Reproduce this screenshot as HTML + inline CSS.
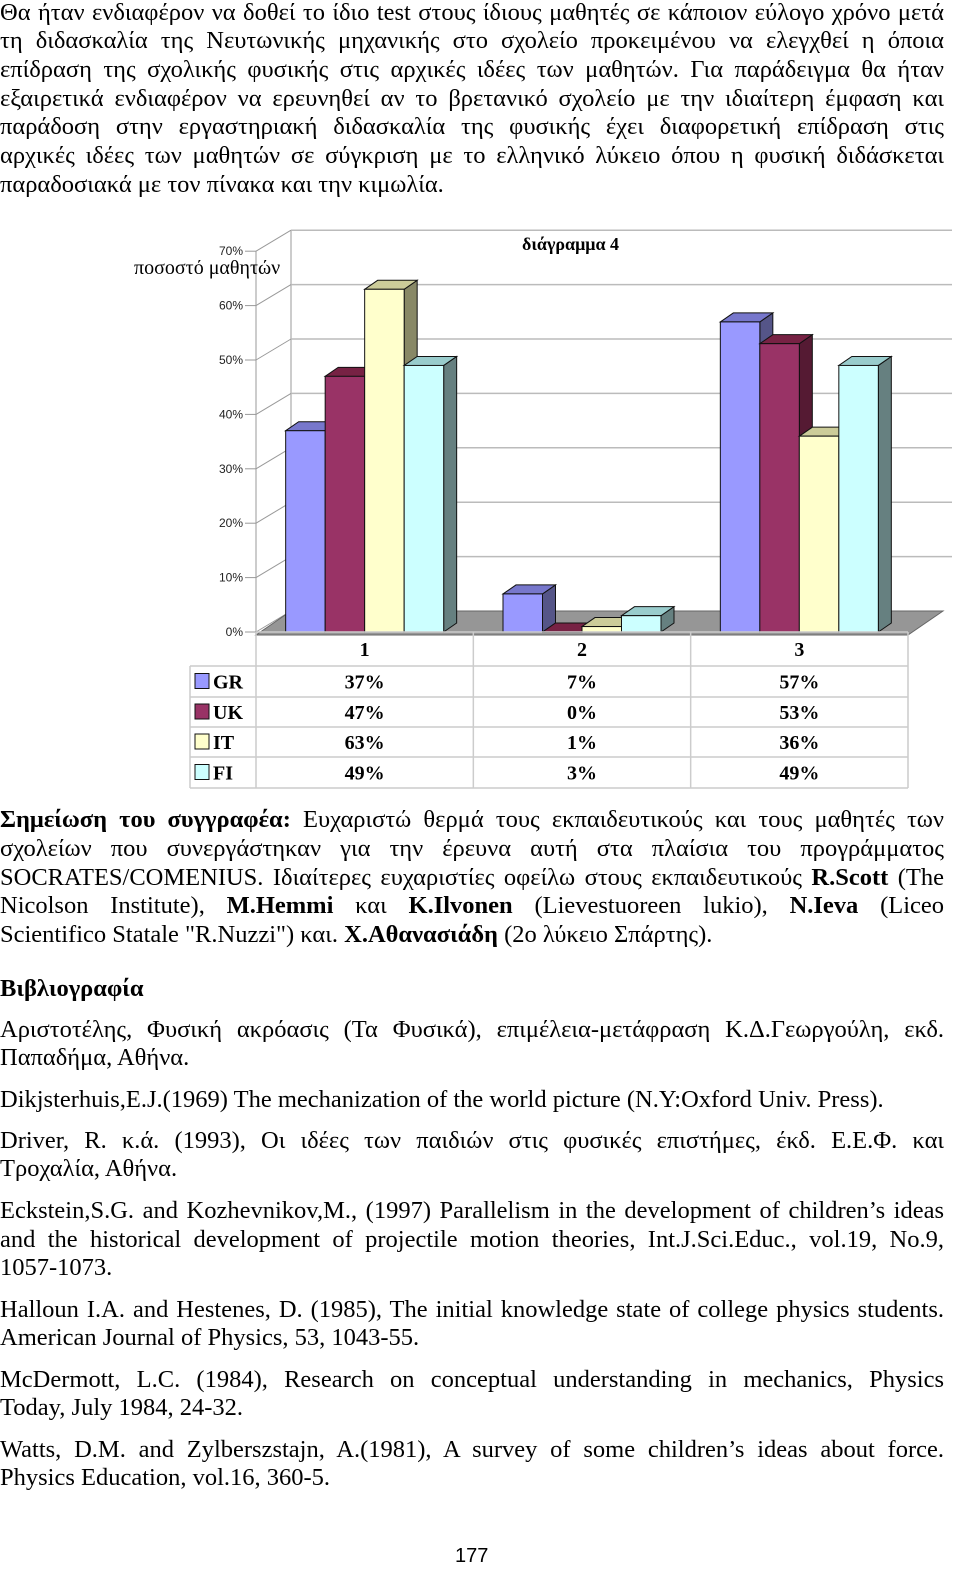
<!DOCTYPE html>
<html><head><meta charset="utf-8">
<style>
html,body{margin:0;padding:0;background:#fff;}
body{width:960px;height:1588px;position:relative;overflow:hidden;font-family:"Liberation Serif","Noto Serif CJK SC",serif;color:#000;}
.l{position:absolute;left:0;width:944px;height:29px;line-height:29px;font-size:24.5px;text-align:justify;text-align-last:justify;white-space:nowrap;}
.l.e{text-align-last:left;}
b{font-weight:bold;}
svg text{font-family:"Liberation Sans",sans-serif;}
</style></head><body>
<div>
<div class="l" style="top:-2px">Θα ήταν ενδιαφέρον να δοθεί το ίδιο test στους ίδιους μαθητές σε κάποιον εύλογο χρόνο μετά</div>
<div class="l" style="top:26px">τη διδασκαλία της Νευτωνικής μηχανικής στο σχολείο προκειμένου να ελεγχθεί η όποια</div>
<div class="l" style="top:55px">επίδραση της σχολικής φυσικής στις αρχικές ιδέες των μαθητών. Για παράδειγμα θα ήταν</div>
<div class="l" style="top:84px">εξαιρετικά ενδιαφέρον να ερευνηθεί αν το βρετανικό σχολείο με την ιδιαίτερη έμφαση και</div>
<div class="l" style="top:112px">παράδοση στην εργαστηριακή διδασκαλία της φυσικής  έχει διαφορετική επίδραση στις</div>
<div class="l" style="top:141px">αρχικές ιδέες των μαθητών σε σύγκριση με το ελληνικό λύκειο όπου η φυσική διδάσκεται</div>
<div class="l e" style="top:170px">παραδοσιακά με τον πίνακα και την κιμωλία.</div>
</div>

<svg id="chart" width="960" height="800" style="position:absolute;left:0;top:0" xmlns="http://www.w3.org/2000/svg"></svg>

<div>
<div class="l" style="top:805px"><b>Σημείωση του συγγραφέα:</b> Ευχαριστώ θερμά τους εκπαιδευτικούς και τους μαθητές των</div>
<div class="l" style="top:834px">σχολείων που συνεργάστηκαν για την έρευνα αυτή στα πλαίσια του προγράμματος</div>
<div class="l" style="top:863px">SOCRATES/COMENIUS. Ιδιαίτερες ευχαριστίες οφείλω στους εκπαιδευτικούς <b>R.Scott</b> (The</div>
<div class="l" style="top:891px">Nicolson Institute), <b>M.Hemmi</b> και <b>K.Ilvonen</b> (Lievestuoreen lukio), <b>N.Ieva</b> (Liceo</div>
<div class="l e" style="top:920px">Scientifico Statale "R.Nuzzi") και. <b>Χ.Αθανασιάδη</b> (2ο λύκειο Σπάρτης).</div>
</div>
<div class="l e" style="top:974px"><b>Βιβλιογραφία</b></div>
<div>
<div class="l" style="top:1015px">Αριστοτέλης, Φυσική ακρόασις (Τα Φυσικά), επιμέλεια-μετάφραση Κ.Δ.Γεωργούλη, εκδ.</div>
<div class="l e" style="top:1043px">Παπαδήμα, Αθήνα.</div>
<div class="l e" style="top:1085px">Dikjsterhuis,E.J.(1969) The mechanization of the world picture (N.Y:Oxford Univ. Press).</div>
<div class="l" style="top:1126px">Driver, R. κ.ά. (1993), Οι ιδέες των παιδιών στις φυσικές επιστήμες, έκδ. Ε.Ε.Φ. και</div>
<div class="l e" style="top:1154px">Τροχαλία, Αθήνα.</div>
<div class="l" style="top:1196px">Eckstein,S.G. and Kozhevnikov,M., (1997) Parallelism in the development of children’s ideas</div>
<div class="l" style="top:1225px">and the historical development of projectile motion theories, Int.J.Sci.Educ., vol.19, No.9,</div>
<div class="l e" style="top:1253px">1057-1073.</div>
<div class="l" style="top:1295px">Halloun I.A. and Hestenes, D. (1985), The initial knowledge state of college physics students.</div>
<div class="l e" style="top:1323px">American Journal of  Physics, 53, 1043-55.</div>
<div class="l" style="top:1365px">McDermott, L.C. (1984), Research on conceptual understanding in mechanics, Physics</div>
<div class="l e" style="top:1393px">Today, July 1984, 24-32.</div>
<div class="l" style="top:1435px">Watts, D.M. and Zylberszstajn, A.(1981), A survey of some children’s ideas about force.</div>
<div class="l e" style="top:1463px">Physics Education, vol.16, 360-5.</div>
</div>
<div style="position:absolute;left:455px;top:1545px;font-size:20px;font-family:'Liberation Sans',sans-serif;">177</div>

<script>
const categories = ["1","2","3"];
const seriesNames = ["GR","UK","IT","FI"];
const GR = [37,7,57];
const UK = [47,0,53];
const IT = [63,1,36];
const FI = [49,3,49];
const yTicks = [0,10,20,30,40,50,60,70];

const series = [GR,UK,IT,FI];
const colors = [
 {f:"#9999ff",s:"#555588",t:"#7777cc"},
 {f:"#993366",s:"#551a33",t:"#772244"},
 {f:"#ffffcc",s:"#888866",t:"#cccc99"},
 {f:"#ccffff",s:"#668080",t:"#99cccc"}];
const NS="http://www.w3.org/2000/svg";
const svg=document.getElementById('chart');
const X0=256, X1=908, DX=35, DY=-21;
const yScale=v=>632-v*5.44;
const catW=(X1-X0)/categories.length;
const barW=39.5, bdx=13, bdy=-9;
const xBar=(c,s)=>X0+catW*c+catW/2-2*barW+s*barW;
function mk(tag,attrs){const e=document.createElementNS(NS,tag);for(const k in attrs)e.setAttribute(k,attrs[k]);svg.appendChild(e);return e;}

let w=mk('line',{x1:X0+DX,y1:yScale(70)+DY,x2:X0+DX,y2:yScale(0)+DY,stroke:'#bbb','stroke-width':1.5});


let ax=mk('line',{x1:X0,y1:yScale(70),x2:X0,y2:yScale(0)+3,stroke:'#bbb','stroke-width':1.5});


yTicks.forEach(t=>{
 const y=yScale(t);
 if(t>0){
 let g=mk('line',{x1:X0+DX,y1:y+DY,x2:952,y2:y+DY,stroke:'#bbb','stroke-width':1.5});
 
 }
 let d=mk('line',{x1:X0,y1:y,x2:X0+DX,y2:y+DY,stroke:'#999','stroke-width':1});
 
 
 let tk=mk('line',{x1:X0-11,y1:y,x2:X0,y2:y,stroke:'#999','stroke-width':1});
 
 
 let lb=mk('text',{x:X0-13,y:y+4,'text-anchor':'end','font-size':12,fill:'#222'});
 lb.textContent=t+'%';
 
 
});
let fl=mk('polygon',{points:`${X0},${yScale(0)+3} ${X1},${yScale(0)+3} ${X1+DX},${yScale(0)+DY} ${X0+DX},${yScale(0)+DY}`,fill:'#969696',stroke:'#666','stroke-width':1});


let tt=mk('text',{x:522,y:250,'font-size':18,'font-weight':'bold',style:'font-family:"Liberation Serif",serif'});
tt.textContent='διάγραμμα 4';


let yt=mk('text',{x:134,y:274,'font-size':20,style:'font-family:"Liberation Serif",serif'});
yt.textContent='ποσοστό μαθητών';


categories.forEach((c,ci)=>{
 series.forEach((arr,si)=>{
  const x=xBar(ci,si), y=yScale(arr[ci]), yb=yScale(0), col=colors[si];
  const g=document.createElementNS(NS,'g');svg.appendChild(g);
  
  
  const p=(tag,a)=>{const e=document.createElementNS(NS,tag);for(const k in a)e.setAttribute(k,a[k]);g.appendChild(e);};
  p('polygon',{points:`${x+barW},${yb} ${x+barW+bdx},${yb+bdy} ${x+barW+bdx},${y+bdy} ${x+barW},${y}`,fill:col.s,stroke:'#111','stroke-width':1});
  p('polygon',{points:`${x},${y} ${x+bdx},${y+bdy} ${x+barW+bdx},${y+bdy} ${x+barW},${y}`,fill:col.t,stroke:'#111','stroke-width':1});
  p('rect',{x:x,y:y,width:barW,height:Math.max(yb-y,0.5),fill:col.f,stroke:'#111','stroke-width':1});
 });
});
const T0=632, RH=[34,31,30,30,31];
const colX=[X0,X0+catW,X0+2*catW,X1];
let rowY=[T0];RH.forEach(h=>rowY.push(rowY[rowY.length-1]+h));
for(let i=0;i<rowY.length;i++){
 let l=mk('line',{x1:i<1?X0:190,y1:rowY[i],x2:X1,y2:rowY[i],stroke:'#ccc','stroke-width':1.5});
 
 
}
let vl=mk('line',{x1:190,y1:rowY[1],x2:190,y2:rowY[5],stroke:'#ccc','stroke-width':1.5});


colX.forEach(x=>{let l=mk('line',{x1:x,y1:T0,x2:x,y2:rowY[5],stroke:'#ccc','stroke-width':1.5});
 
 });
categories.forEach((c,ci)=>{
 let t=mk('text',{x:X0+catW*ci+catW/2,y:656,'text-anchor':'middle','font-size':20,'font-weight':'bold',style:'font-family:"Liberation Serif",serif'});
 t.textContent=c;
 
 
});
series.forEach((arr,si)=>{
 const cy=(rowY[si+1]+rowY[si+2])/2;
 let sw=mk('rect',{x:195,y:cy-8,width:14,height:15,fill:colors[si].f,stroke:'#111','stroke-width':1});
 
 
 let nm=mk('text',{x:213,y:cy+7,'font-size':20,'font-weight':'bold',style:'font-family:"Liberation Serif",serif'});
 nm.textContent=seriesNames[si];
 
 
 arr.forEach((v,ci)=>{
  let t=mk('text',{x:X0+catW*ci+catW/2,y:cy+7,'text-anchor':'middle','font-size':20,'font-weight':'bold',style:'font-family:"Liberation Serif",serif'});
  t.textContent=v+'%';
  
  
 });
});
</script>
</body></html>
